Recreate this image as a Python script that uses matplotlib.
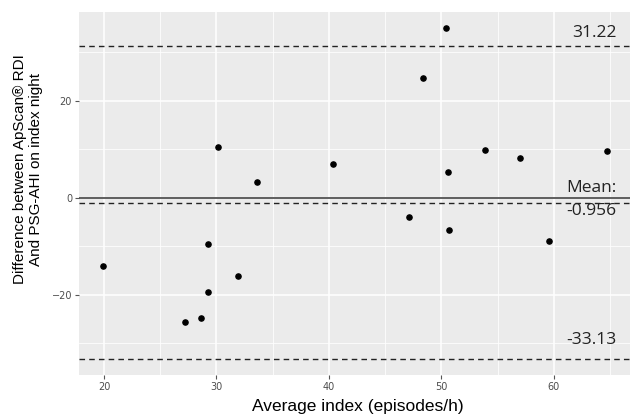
import numpy as np
import matplotlib.pyplot as plt

# averages (x) and differences (y)
avg_index = [19.94, 27.23, 28.62, 29.22, 29.27, 30.16, 31.91, 33.6, 40.36,
             47.08, 48.33, 50.4, 50.58, 50.69, 53.87, 57.0, 59.53, 64.7]
difference = [-14.0, -25.63, -24.8, -9.55, -19.44, 10.45, -16.14, 3.3, 6.93,
              -3.84, 24.74, 35.0, 5.3, -6.52, 9.9, 8.12, -8.93, 9.63]

mean_diff = -0.956
upper_loa = 31.22
lower_loa = -33.13

fig = plt.figure(figsize=(6.3, 4.16), dpi=100)
ax = fig.add_axes([0.1254, 0.0986, 0.8746, 0.8725])
ax.set_facecolor('#EBEBEB')
for s in ax.spines.values():
    s.set_visible(False)

ax.set_xlim(17.78, 66.76)
ax.set_ylim(-36.5, 38.3)

ax.set_xticks([20, 30, 40, 50, 60])
ax.set_xticks([25, 35, 45, 55, 65], minor=True)
ax.set_yticks([-20, 0, 20])
ax.set_yticks([-30, -10, 10, 30], minor=True)
ax.grid(True, which='major', color='white', linewidth=1.1)
ax.grid(True, which='minor', color='white', linewidth=0.55)
ax.set_axisbelow(True)
ax.tick_params(which='major', length=3, width=0.8, color='#555555',
               labelcolor='#4D4D4D', labelsize=7, pad=2)
ax.tick_params(which='minor', length=0)

ax.axhline(0, color='#444444', linewidth=1.2)
for v in (upper_loa, mean_diff, lower_loa):
    ax.axhline(v, color='#222222', linewidth=1.0, linestyle=(0, (4, 3)))

ax.scatter(avg_index, difference, s=14, color='black', zorder=3)

# labels for the mean and limits of agreement
tf = ['Open Sans', 'DejaVu Sans']
for txt, yy in [('31.22', 0.942), ('Mean:', 0.515), ('-0.956', 0.452),
                ('-33.13', 0.0964)]:
    ax.text(0.976, yy, txt, transform=ax.transAxes, ha='right', va='center',
            fontsize=12.5, family=tf, color='#222222')

lf = ['Liberation Sans', 'DejaVu Sans']
fig.text(358 / 630, 1 - 407 / 416, 'Average index (episodes/h)',
         ha='center', va='center', fontsize=12.5, family=lf)
fig.text(27.75 / 630, 1 - 169 / 416,
         'Difference between ApScan® RDI\nAnd PSG-AHI on index night',
         ha='center', va='center', rotation=90, fontsize=11, family=lf,
         linespacing=1.15)

fig.savefig('out.png', dpi=100)
